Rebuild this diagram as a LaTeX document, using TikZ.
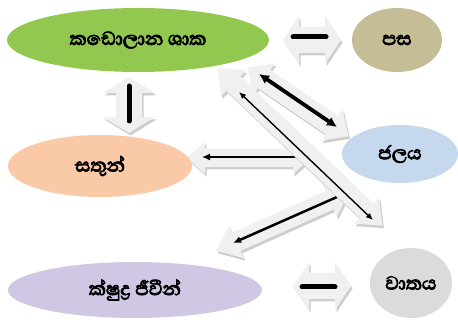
\documentclass[tikz,border=0pt]{standalone}
\usepackage{fontspec}
\newfontfamily\sinfont[Script=Sinhala,FakeBold=3.5]{Abhaya Libre}
\usetikzlibrary{arrows.meta,shapes.geometric}
\definecolor{cgreen}{RGB}{146,200,80}
\definecolor{csoil}{RGB}{197,189,150}
\definecolor{cpeach}{RGB}{250,201,168}
\definecolor{cblue}{RGB}{197,216,238}
\definecolor{clav}{RGB}{207,199,227}
\definecolor{cair}{RGB}{219,219,219}
\definecolor{cblock}{RGB}{240,240,240}
\definecolor{cshade}{RGB}{205,205,205}
\newcommand\arrpoly[4]{({-#1},0) -- ({-#1+#4},#2) -- ({-#1+#4},#3) -- ({#1-#4},#3) -- ({#1-#4},#2) -- ({#1},0) -- ({#1-#4},{-#2}) -- ({#1-#4},{-#3}) -- ({-#1+#4},{-#3}) -- ({-#1+#4},{-#2}) -- cycle}
% cx, cy, angle, half length, head half, shaft half, head length
\newcommand\blockarr[7]{%
  \begin{scope}[shift={({#1+1.5},{#2+2.5})},rotate=#3]
    \fill[cshade] \arrpoly{#4}{#5}{#6}{#7};
  \end{scope}
  \begin{scope}[shift={(#1,#2)},rotate=#3]
    \fill[cblock] \arrpoly{#4}{#5}{#6}{#7};
  \end{scope}}
\tikzset{
  bubble/.style={ellipse, inner sep=0pt, text=black,
    font=\sinfont\fontsize{24}{26}\selectfont},
  bar/.style={line width=5pt, line cap=round, black},
  link/.style={black, {Latex[length=7pt,width=6pt]}-{Latex[length=7pt,width=6pt]}},
  biglink/.style={black, {Latex[length=10pt,width=10pt]}-{Latex[length=10pt,width=10pt]}},
  onelink/.style={black, -{Latex[length=8pt,width=7pt]}}
}
\begin{document}
\begin{tikzpicture}[x=1pt,y=-1pt]
\useasboundingbox (0,0) rectangle (458,320);
% block arrows
\blockarr{312}{40}{0}{29}{24}{13}{16}
\blockarr{129}{105}{90}{28}{26}{13}{16}
\blockarr{322}{286}{0}{29}{24}{13}{16}
\blockarr{249}{158}{0}{62}{16}{9}{18}
\blockarr{283}{221}{24}{73}{18}{10}{22}
\blockarr{298}{102}{-34.2}{61}{19}{11}{20}
% ellipses
\node[bubble, fill=cgreen, minimum width=262pt, minimum height=64pt] (mangrove) at (138,40) {කඩොලාන ශාක};
\node[bubble, fill=csoil, minimum width=90pt, minimum height=64pt] (soil) at (397,40) {පස};
\node[bubble, fill=cpeach, minimum width=184pt, minimum height=62pt] (animals) at (100,166) {සතුන්};
\node[bubble, fill=cblue, minimum width=116pt, minimum height=58pt] (water) at (400,154) {ජලය};
\node[bubble, fill=clav, minimum width=254pt, minimum height=56pt] (micro) at (135,290) {ක්ෂුද්‍ර ජීවීන්};
\node[bubble, fill=cair, minimum width=82pt, minimum height=70pt] (air) at (411,283) {වාතය};
% black connectors (earlier ones)
\coordinate (wa1) at (297,157); \coordinate (wa2) at (202,157);
\coordinate (wm1) at (337,197); \coordinate (wm2) at (233,243);
\coordinate (mw1) at (259,74);  \coordinate (mw2) at (337,127);
\draw[onelink, line width=1.5pt] (wa1) -- (wa2);
\draw[onelink, line width=2.5pt] (wm1) -- (wm2);
\draw[biglink, line width=3.8pt] (mw1) -- (mw2);
% long diagonal block on top
\blockarr{300}{147}{-43.7}{114}{18}{10}{22}
\coordinate (ma1) at (239,92); \coordinate (ma2) at (373,220);
\draw[link, line width=1.4pt] (ma1) -- (ma2);
% bars
\coordinate (ms1) at (293,37); \coordinate (ms2) at (326,37);
\coordinate (man1) at (129,86); \coordinate (man2) at (129,121);
\coordinate (mi1) at (302,287); \coordinate (mi2) at (335,287);
\draw[bar] (ms1) -- (ms2);
\draw[bar] (man1) -- (man2);
\draw[bar] (mi1) -- (mi2);
\end{tikzpicture}
\end{document}
